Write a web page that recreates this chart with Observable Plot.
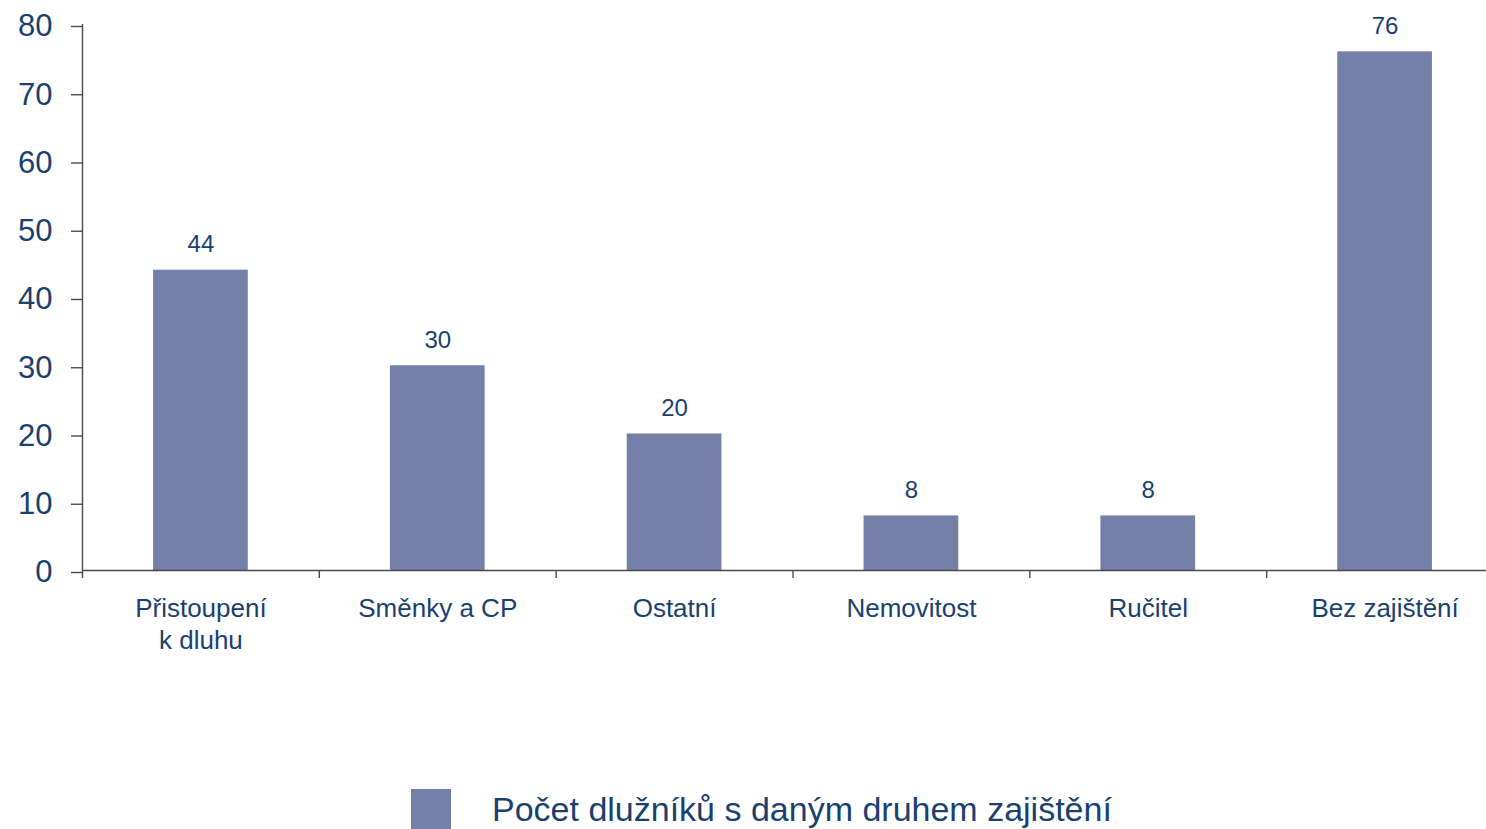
<!DOCTYPE html>
<html>
<head>
<meta charset="utf-8">
<script src="https://cdn.jsdelivr.net/npm/d3@7"></script>
<script src="https://cdn.jsdelivr.net/npm/@observablehq/plot@0.6"></script>
<style>
  html, body { margin: 0; padding: 0; background: #fff; overflow: hidden; }
  #chart svg { display: block; }
  #legend { position: relative; height: 59px; font-family: "Liberation Sans", Arial, sans-serif; }
  #legend .sw { position: absolute; left: 411px; top: 19px; width: 40px; height: 40px; background: #7580a8; }
  #legend .lbl { position: absolute; left: 492px; top: 19px; font-size: 34px; line-height: 40px; color: #1b3f6e; white-space: nowrap; }
</style>
</head>
<body>
<div id="chart"></div>
<div id="legend"><span class="sw"></span><span class="lbl"></span></div>
<script>
const categories = ["Přistoupení k dluhu", "Směnky a CP", "Ostatní", "Nemovitost", "Ručitel", "Bez zajištění"];
const tickLabels = ["Přistoupení\nk dluhu", "Směnky a CP", "Ostatní", "Nemovitost", "Ručitel", "Bez zajištění"];
const values = [44, 30, 20, 8, 8, 76];
const yTicks = [0, 10, 20, 30, 40, 50, 60, 70, 80];
const seriesName = "Počet dlužníků s daným druhem zajištění";

const navy = "#1b3f6e";
const barColor = "#7580a8";
const axisColor = "#4a4a4a";

const data = categories.map((c, i) => ({category: c, value: values[i]}));
const labelOf = new Map(categories.map((c, i) => [c, tickLabels[i]]));

const W = 1486, H = 770;
const x0 = 82, x1 = 1503;
const step = (x1 - x0) / categories.length;

const chart = Plot.plot({
  width: W,
  height: H,
  marginTop: 24,
  marginBottom: 200,
  marginLeft: 82,
  marginRight: 0,
  style: {fontFamily: "'Liberation Sans', Arial, sans-serif", background: "#fff", overflow: "visible"},
  x: {domain: categories, range: [x0, x1], paddingInner: 0.6, paddingOuter: 0.3, align: 0.5, round: false},
  y: {domain: [0, 80]},
  marks: [
    Plot.barY(data, {x: "category", y: "value", fill: barColor}),
    Plot.text(data, {x: "category", y: "value", text: d => String(d.value), dy: -18, lineAnchor: "bottom", fill: navy, fontSize: 24}),
    Plot.ruleY([0], {stroke: axisColor, strokeWidth: 1.4}),
    // vertical y-axis line at the left edge of the first band
    Plot.ruleX([categories[0]], {x: d => d, dx: -step / 2, y1: () => 0, y2: () => 80, stroke: axisColor, strokeWidth: 1.4}),
    // x ticks at band boundaries
    Plot.ruleX(categories, {x: d => d, dx: -step / 2, y1: () => 0, y2: () => 0, insetBottom: -8, stroke: axisColor, strokeWidth: 1.4}),
    Plot.axisY(yTicks, {
      ticks: yTicks, tickSize: 11, tickPadding: 19, fontSize: 31, dy: 2, color: navy, stroke: axisColor, strokeWidth: 1.4, label: null
    }),
    Plot.axisX({
      tickSize: 0, tickPadding: 23, fontSize: 26, color: navy, lineHeight: 1.25,
      tickFormat: d => labelOf.get(d), label: null
    })
  ]
});

chart.querySelectorAll("[aria-label='y-axis tick'] path").forEach(el => {
  el.setAttribute("stroke", axisColor);
});

document.getElementById("chart").appendChild(chart);
document.querySelector("#legend .lbl").textContent = seriesName;
</script>
</body>
</html>
